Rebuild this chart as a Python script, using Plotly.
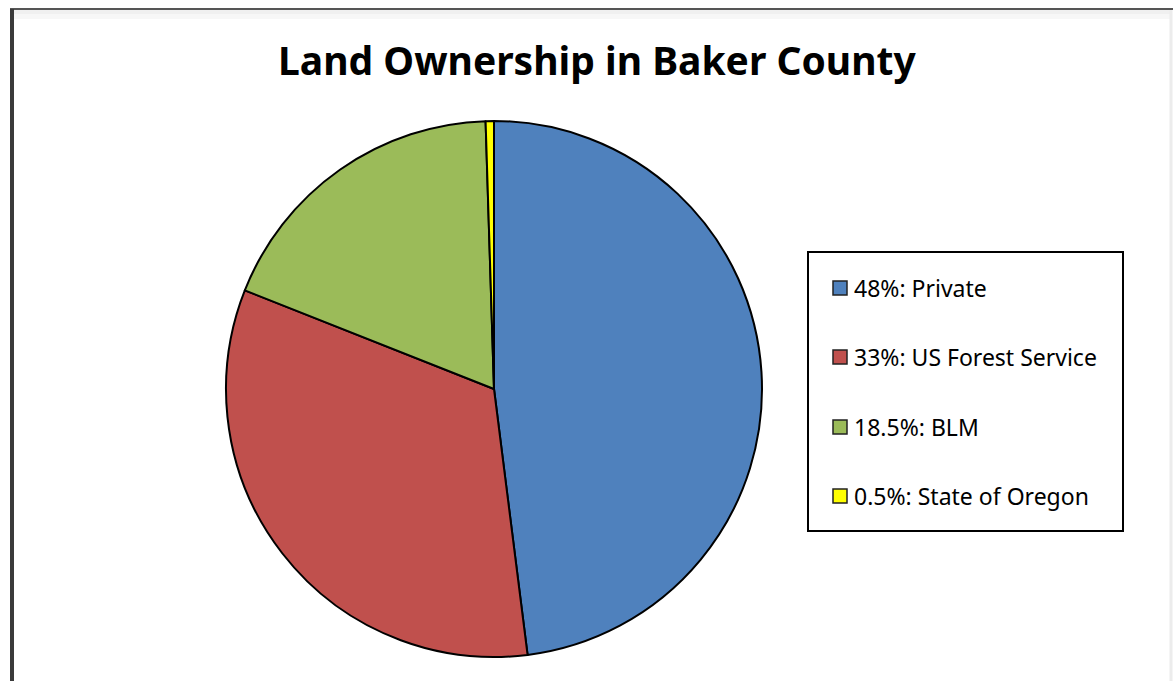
import plotly.graph_objects as go

labels = ["Private", "US Forest Service", "BLM", "State of Oregon"]
values = [48, 33, 18.5, 0.5]
legend_text = ["48%: Private", "33%: US Forest Service", "18.5%: BLM", "0.5%: State of Oregon"]
colors = ["#4F81BD", "#C0504D", "#9BBB59", "#FFFF00"]
title = "Land Ownership in Baker County"

W, H = 1173, 681
def px(x):
    return x / W
def py(y):
    return 1 - y / H

fig = go.Figure()
fig.add_trace(go.Pie(
    labels=labels, values=values, sort=False, direction="clockwise", rotation=0,
    marker=dict(colors=colors, line=dict(color="black", width=2)),
    textinfo="none", hoverinfo="label+percent", showlegend=False,
    domain=dict(x=[px(226), px(762)], y=[py(657), py(121)]),
))

shapes = []
# frame
shapes.append(dict(type="rect", xref="paper", yref="paper", x0=px(14), x1=px(1170), y0=py(10), y1=py(14),
                   fillcolor="rgba(0,0,0,0.06)", line=dict(width=0), layer="below"))
shapes.append(dict(type="rect", xref="paper", yref="paper", x0=px(14), x1=px(1170), y0=py(14), y1=py(19),
                   fillcolor="rgba(0,0,0,0.03)", line=dict(width=0), layer="below"))
shapes.append(dict(type="line", xref="paper", yref="paper", x0=px(10), x1=px(1173), y0=py(9), y1=py(9),
                   line=dict(color="#555555", width=2)))
shapes.append(dict(type="line", xref="paper", yref="paper", x0=px(12), x1=px(12), y0=py(9), y1=0,
                   line=dict(color="#3a3a3a", width=4)))
shapes.append(dict(type="line", xref="paper", yref="paper", x0=px(1171), x1=px(1171), y0=py(10), y1=0,
                   line=dict(color="#ececec", width=3)))
# legend box
shapes.append(dict(type="rect", xref="paper", yref="paper", x0=px(808), x1=px(1123), y0=py(531), y1=py(252),
                   line=dict(color="black", width=2), fillcolor="white"))

annotations = []
item_y = [288, 357, 427, 496]
for i, (t, c) in enumerate(zip(legend_text, colors)):
    yc = item_y[i]
    shapes.append(dict(type="rect", xref="paper", yref="paper", x0=px(833), x1=px(847), y0=py(yc + 7), y1=py(yc - 7),
                       fillcolor=c, line=dict(color="#222222", width=1.5)))
    annotations.append(dict(text=t, xref="paper", yref="paper", x=px(852), y=py(yc), xanchor="left", yanchor="middle",
                            showarrow=False, font=dict(family="Noto Sans", size=23, color="black")))

annotations.append(dict(text="<b>" + title + "</b>", xref="paper", yref="paper", x=px(597), y=py(59),
                        xanchor="center", yanchor="middle", showarrow=False,
                        font=dict(family="Noto Sans", size=39, color="black")))

fig.update_layout(
    width=W, height=H, margin=dict(l=0, r=0, t=0, b=0),
    paper_bgcolor="white", plot_bgcolor="white",
    shapes=shapes, annotations=annotations, showlegend=False,
)
fig.write_html("out.html")
